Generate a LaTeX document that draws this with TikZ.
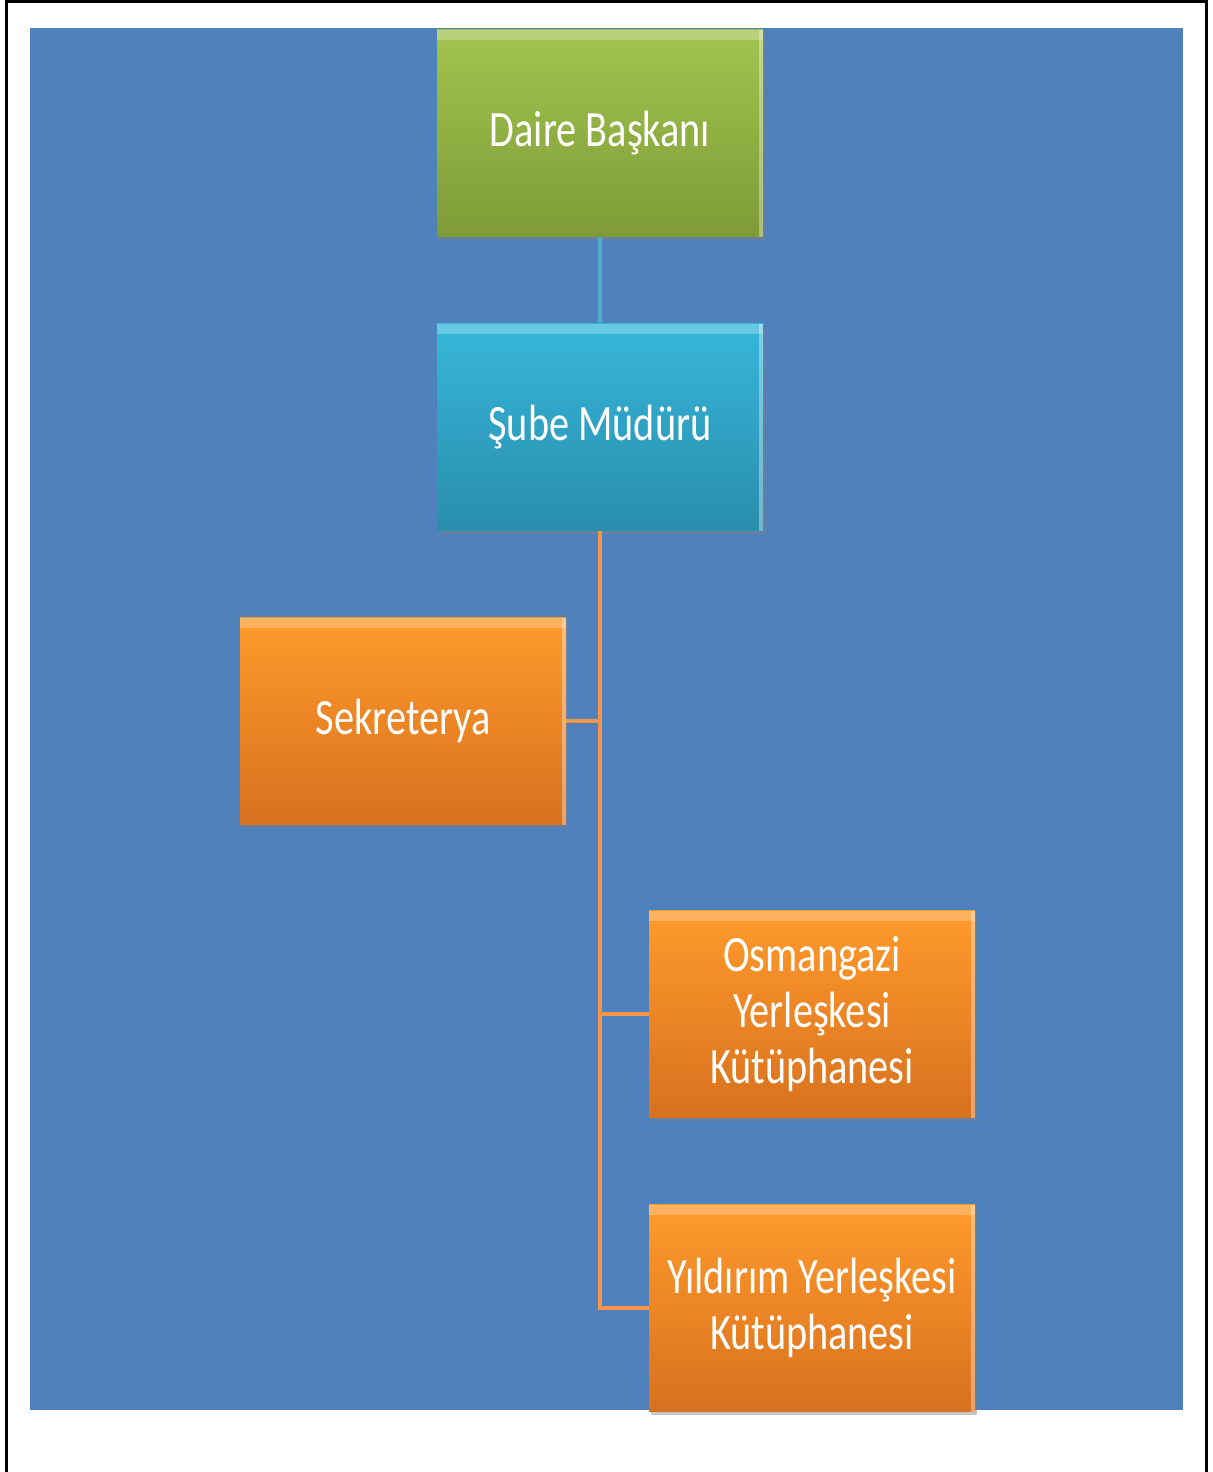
\documentclass[tikz,border=0pt]{standalone}
\usepackage{fontspec}
\setmainfont{Carlito}[FakeStretch=0.79]
\usepackage{tikz}
\usetikzlibrary{calc,shadows}

\definecolor{backblue}{HTML}{4F81BD}
\definecolor{greentop}{HTML}{A2C44E}
\definecolor{greenbot}{HTML}{7E9B38}
\definecolor{tealtop}{HTML}{36B6DA}
\definecolor{tealbot}{HTML}{2A8EAD}
\definecolor{orangetop}{HTML}{FF9A2C}
\definecolor{orangebot}{HTML}{D8711E}
\definecolor{tealline}{HTML}{4BACC6}
\definecolor{orangeline}{HTML}{F79646}

\tikzset{
	unit/.style={minimum width=6.52cm, minimum height=4.14cm, align=center,
		text=white, font=\fontsize{29}{32}\selectfont, inner sep=0pt,
		drop shadow={shadow xshift=0.03cm, shadow yshift=-0.06cm, opacity=0.45},
		path picture={
			\fill[white, opacity=0.25] (path picture bounding box.north west) rectangle ([yshift=-0.2cm]path picture bounding box.north east);
			\fill[white, opacity=0.35] ([xshift=-0.08cm]path picture bounding box.north east) rectangle (path picture bounding box.south east);
		}},
	greenunit/.style={unit, top color=greentop, bottom color=greenbot},
	tealunit/.style={unit, top color=tealtop, bottom color=tealbot},
	orangeunit/.style={unit, top color=orangetop, bottom color=orangebot},
	tealwire/.style={tealline, line width=0.08cm},
	orangewire/.style={orangeline, line width=0.08cm}
}

\begin{document}
\begin{tikzpicture}
			%%%%% START %%%%%
			
			\useasboundingbox (0, 0) rectangle (24.24, -29.44);
			\draw[line width=0.06cm] (0.13, -29.44) -- (0.13, -0.03) -- (24.13, -0.03) -- (24.13, -29.44);
			
			\fill[backblue] (0.6, -0.56) rectangle (23.66, -28.2);
			
			\node[greenunit] (daire) at (12.0, -2.66) {Daire Başkanı};
			\node[tealunit] (sube) at (12.0, -8.54) {Şube Müdürü};
			
			\node[orangeunit] (sekr) at (8.06, -14.42) {Sekreterya};
			\node[orangeunit] (osman) at (16.24, -20.28) {Osmangazi\\Yerleşkesi\\Kütüphanesi};
			\node[orangeunit] (yildirim) at (16.24, -26.16) {Yıldırım Yerleşkesi\\Kütüphanesi};
			
			\draw[tealwire] (daire.south) -- (sube.north);
			
			\draw[orangewire] (sube.south) -- (sube.south |- yildirim.west) -- (yildirim.west);
			\draw[orangewire] (sekr.east) -- (sekr.east -| sube.south);
			\draw[orangewire] (osman.west) -- (osman.west -| sube.south);
			
			%%%%% END %%%%%
\end{tikzpicture}
\end{document}
